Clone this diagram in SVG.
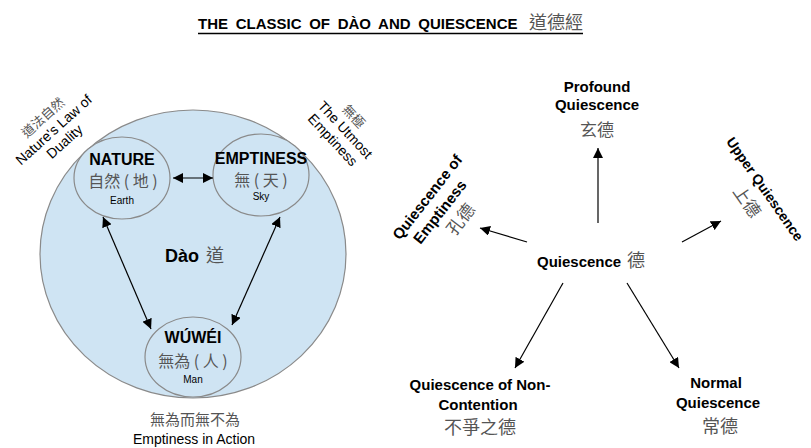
<svg xmlns="http://www.w3.org/2000/svg" width="811" height="448" viewBox="0 0 811 448">
<style>
.en{font-family:"Liberation Sans",Arial,sans-serif;fill:#000}
.b{font-weight:bold}
.cj{font-family:"Noto Sans CJK TC","Noto Sans CJK SC",sans-serif;fill:#555}
.mid{text-anchor:middle}
.bg{fill:#cfe4f3;stroke:#8a8a8a;stroke-width:1.2}
.ln{stroke:#000;stroke-width:1.2;fill:none}
</style>
<defs>
<marker id="ah" viewBox="0 0 10 10" refX="10" refY="5" markerWidth="10" markerHeight="10" markerUnits="userSpaceOnUse" orient="auto-start-reverse">
<path d="M0,0 L10,5 L0,10 Z" fill="#000"/>
</marker>
</defs>
<rect width="811" height="448" fill="#fff"/>
<g id="title">
<text class="en b" x="198" y="29" font-size="15" word-spacing="3.5">THE CLASSIC OF DÀO AND QUIESCENCE</text>
<text class="cj" x="529" y="29" font-size="18">道德經</text>
<line x1="198" y1="33.5" x2="583" y2="33.5" stroke="#000" stroke-width="1.4"/>
</g>
<g id="dao">
<ellipse class="bg" cx="193" cy="254" rx="153" ry="144"/>
<text class="en b" x="165" y="262" font-size="18">Dào</text>
<text class="cj" x="206" y="262" font-size="18">道</text>
</g>
<g id="nature">
<ellipse class="bg" cx="122" cy="178" rx="48" ry="41"/>
<text class="en b mid" x="122" y="165" font-size="16">NATURE</text>
<text class="cj mid" x="123" y="187" font-size="16">自然 ( 地 )</text>
<text class="en mid" x="122" y="204" font-size="10">Earth</text>
</g>
<g id="emptiness">
<ellipse class="bg" cx="261" cy="175" rx="48" ry="41"/>
<text class="en b mid" x="261" y="164" font-size="16">EMPTINESS</text>
<text class="cj mid" x="261" y="186" font-size="16">無 ( 天 )</text>
<text class="en mid" x="261" y="200" font-size="10">Sky</text>
</g>
<g id="wuwei">
<ellipse class="bg" cx="193" cy="357" rx="48" ry="40"/>
<text class="en b mid" x="193" y="343" font-size="16">WÚWÉI</text>
<text class="cj mid" x="193" y="367" font-size="16">無為 ( 人 )</text>
<text class="en mid" x="193" y="383" font-size="10">Man</text>
</g>
<g id="law">
<g transform="translate(54,130) rotate(-42)">
<text class="cj mid" x="0" y="-12" font-size="13">道法自然</text>
<text class="en mid" x="0" y="4.5" font-size="14">Nature's Law of</text>
<text class="en mid" x="0" y="20.5" font-size="14">Duality</text>
</g>
</g>
<g id="utmost">
<g transform="translate(345,130) rotate(47)">
<text class="cj mid" x="-4" y="-11" font-size="13">無極</text>
<text class="en mid" x="0" y="4.5" font-size="14">The Utmost</text>
<text class="en mid" x="-1" y="20.5" font-size="14">Emptiness</text>
</g>
</g>
<g id="action">
<text class="cj mid" x="195" y="425" font-size="15">無為而無不為</text>
<text class="en mid" x="194" y="444" font-size="14">Emptiness in Action</text>
</g>
<g id="quiescence">
<text class="en b" x="537" y="267" font-size="15">Quiescence</text>
<text class="cj" x="627" y="267" font-size="18">德</text>
</g>
<g id="profound">
<text class="en b mid" x="597" y="92" font-size="15">Profound</text>
<text class="en b mid" x="597" y="110" font-size="15">Quiescence</text>
<text class="cj mid" x="597" y="136" font-size="17">玄德</text>
</g>
<g id="q-emptiness">
<g transform="translate(440,212) rotate(-52)">
<text class="en b mid" x="4" y="-14" font-size="15">Quiescence of</text>
<text class="en b mid" x="0" y="5" font-size="15">Emptiness</text>
<text class="cj mid" x="7" y="27" font-size="17">孔德</text>
</g>
</g>
<g id="upper">
<g transform="translate(765,189) rotate(55)">
<text class="en b mid" x="0" y="5" font-size="14">Upper Quiescence</text>
<text class="cj mid" x="0" y="28" font-size="17">上德</text>
</g>
</g>
<g id="noncontention">
<text class="en b mid" x="480" y="390" font-size="15">Quiescence of Non-</text>
<text class="en b mid" x="478" y="410" font-size="15">Contention</text>
<text class="cj mid" x="480" y="434" font-size="18">不爭之德</text>
</g>
<g id="normal">
<text class="en b mid" x="716" y="388" font-size="15">Normal</text>
<text class="en b mid" x="718" y="408" font-size="15">Quiescence</text>
<text class="cj mid" x="720" y="433" font-size="18">常德</text>
</g>
<g id="connectors">
<line class="ln" x1="173" y1="178" x2="213" y2="178" marker-start="url(#ah)" marker-end="url(#ah)"/>
<line class="ln" x1="103" y1="217" x2="151" y2="329" marker-start="url(#ah)" marker-end="url(#ah)"/>
<line class="ln" x1="280" y1="217" x2="232" y2="325" marker-start="url(#ah)" marker-end="url(#ah)"/>
<line class="ln" x1="598" y1="223" x2="598" y2="148" marker-end="url(#ah)"/>
<line class="ln" x1="527" y1="242" x2="480" y2="228" marker-end="url(#ah)"/>
<line class="ln" x1="682" y1="242" x2="721" y2="221" marker-end="url(#ah)"/>
<line class="ln" x1="563" y1="283" x2="515" y2="368" marker-end="url(#ah)"/>
<line class="ln" x1="627" y1="283" x2="679" y2="368" marker-end="url(#ah)"/>
</g>
</svg>
